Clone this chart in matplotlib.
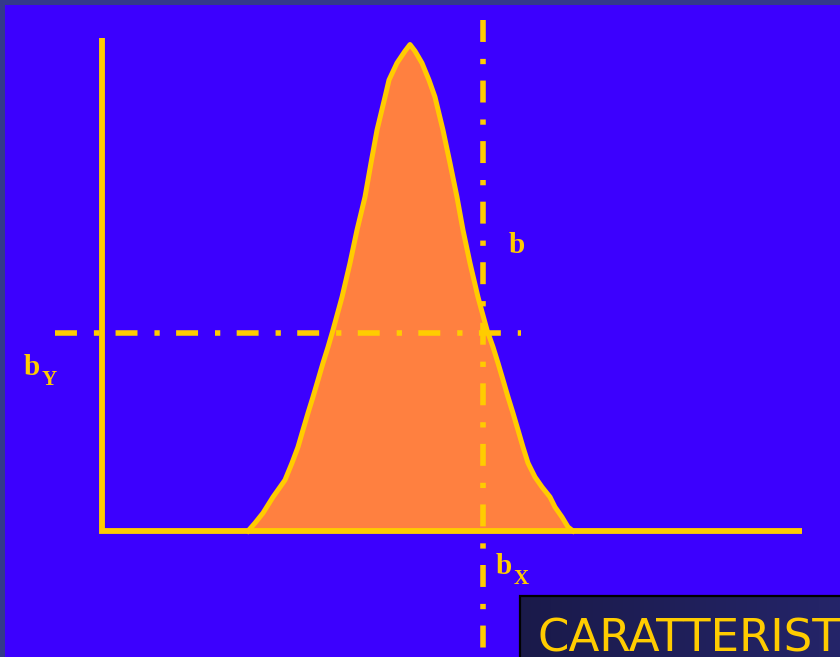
import matplotlib
matplotlib.use("Agg")
import matplotlib.pyplot as plt
from matplotlib.patches import Rectangle
from matplotlib.colors import LinearSegmentedColormap
import numpy as np

plt.rcParams['lines.scale_dashes'] = False

# ---- data (axis units: x 0..100, y 0..100) ----
curve_x = [20.86, 21.86, 23.00, 24.43, 25.14, 26.14, 27.14, 28.00, 28.71, 29.43,
           30.14, 30.86, 31.57, 32.29, 33.00, 34.29, 35.43, 36.43, 37.57, 38.43,
           39.29, 40.43, 41.00, 42.14, 43.29, 44.00, 44.71, 45.71, 46.71, 47.57,
           48.71, 49.71, 50.71, 51.57, 52.57, 53.71, 55.00, 55.86, 56.57, 57.29,
           58.00, 58.71, 59.43, 60.14, 60.86, 61.86, 62.86, 64.00, 64.71, 65.71,
           66.57, 67.29]
curve_y = [0.00, 1.62, 3.65, 6.90, 8.32, 10.34, 13.79, 17.04, 20.49, 23.94,
           27.18, 30.63, 34.08, 37.32, 40.77, 47.46, 54.36, 61.05, 67.75, 74.65,
           81.34, 88.03, 91.48, 94.93, 97.36, 98.68, 97.36, 94.93, 91.48, 88.03,
           81.34, 74.65, 67.75, 61.05, 54.36, 47.46, 40.77, 37.32, 34.08, 30.63,
           27.18, 23.94, 20.49, 17.04, 13.79, 10.95, 8.92, 6.90, 4.87, 2.84,
           0.81, 0.00]
b_x = 54.43          # vertical dash-dot line
b_y = 40.16          # horizontal dash-dot line
axis_max = 100.0
label_b = "b"
label_by = ("b", "Y")
label_bx = ("b", "X")
title_text = "CARATTERISTICHE"

# ---- colours ----
BG = '#3c00fe'
BORDER = '#34398a'
YEL = '#ffcc00'
ORA = '#ff8040'

W, H = 840, 657
# origin of the drawn axes at pixel (102, 531); 7 px per x unit, 4.93 px per y unit
X0, Y0, SX, SY = 102, 531, 7.0, 4.93


def ux(px):
    return (px - X0) / SX


def uy(py):
    return (Y0 - py) / SY


fig = plt.figure(figsize=(W / 100, H / 100), dpi=100, facecolor=BORDER)
ax = fig.add_axes([5 / W, 0, (W - 5) / W, (H - 5) / H])
ax.set_facecolor(BG)
for s in ax.spines.values():
    s.set_visible(False)
ax.set_xticks([])
ax.set_yticks([])

# filled curve
ax.fill_between(curve_x, curve_y, 0, color=ORA, lw=0, zorder=2)
ax.plot(curve_x, curve_y, color=YEL, lw=3.6, solid_joinstyle='round', zorder=4)

# dash-dot lines
dash = (0, (15.8, 12.2, 3.8, 11.8))
ax.plot([ux(55), ux(521)], [b_y, b_y], color=YEL, lw=4.0,
        linestyle=dash, dash_capstyle='butt', zorder=3)
ax.plot([b_x, b_x], [uy(20), uy(H + 5)], color=YEL, lw=4.0,
        linestyle=dash, dash_capstyle='butt', zorder=3)

# axes lines
ax.plot([0, 0, axis_max], [axis_max, 0, 0], color=YEL, lw=4.2,
        solid_joinstyle='miter', solid_capstyle='butt', zorder=5)

# labels
serif = dict(family='Liberation Serif', weight='bold', color=YEL)
ax.text(ux(509), uy(253), label_b, fontsize=21, ha='left', va='baseline', **serif)
ax.text(ux(24), uy(375), label_by[0], fontsize=21, ha='left', va='baseline', **serif)
ax.annotate(label_by[1], xy=(ux(24), uy(375)), xytext=(18, -10),
            textcoords='offset pixels', fontsize=15, ha='left', va='baseline', **serif)
ax.text(ux(496), uy(574), label_bx[0], fontsize=21, ha='left', va='baseline', **serif)
ax.annotate(label_bx[1], xy=(ux(496), uy(574)), xytext=(18, -10),
            textcoords='offset pixels', fontsize=15, ha='left', va='baseline', **serif)

# title box at bottom right (dark navy with a slight horizontal gradient)
bx0, by0, bx1, by1 = ux(520), uy(H + 10), ux(W + 10), uy(596)
grad = np.linspace(0, 1, 256).reshape(1, -1)
cmap = LinearSegmentedColormap.from_list('navy', ['#1a1a4a', '#25256a'])
im = ax.imshow(grad, cmap=cmap, extent=[bx0, bx1, by0, by1], aspect='auto',
               zorder=6, interpolation='bilinear')
box = Rectangle((bx0, by0), bx1 - bx0, by1 - by0, facecolor='none',
                edgecolor='black', lw=1.6, zorder=7)
ax.add_patch(box)
im.set_clip_path(box)
ax.set_xlim(ux(5), ux(W))
ax.set_ylim(uy(H), uy(5))
ax.text(ux(538), uy(652), title_text, fontsize=32.5,
        family='DejaVu Sans', color=YEL, ha='left', va='baseline',
        zorder=8, clip_on=True)

fig.savefig('out.png', dpi=100, facecolor=BORDER)
